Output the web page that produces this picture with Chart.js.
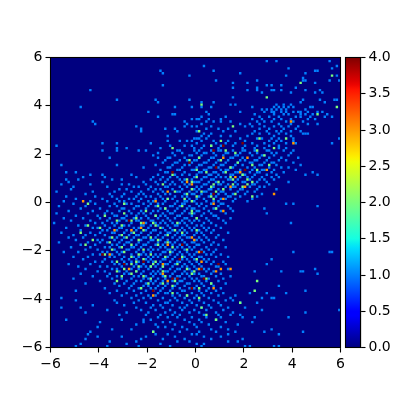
<!DOCTYPE html>
<html>
<head>
<meta charset="utf-8">
<style>
  html, body { margin: 0; padding: 0; background: #fff; }
  #wrap { position: relative; width: 400px; height: 400px; }
  canvas { position: absolute; left: 0; top: 0; }
</style>
<script src="https://cdn.jsdelivr.net/npm/chart.js@4/dist/chart.umd.min.js"></script>
</head>
<body>
<div id="wrap">
  <canvas id="heat" width="400" height="400"></canvas>
  <canvas id="bar" width="400" height="400"></canvas>
</div>
<script>
// histogram bins. row 0 is the top row, col 0 the left column
const binCount = 120;
const axisMin = -6;
const axisMax = 6;
const xTicks = [-6, -4, -2, 0, 2, 4, 6];
const colorbarTicks = [0, 0.5, 1, 1.5, 2, 2.5, 3, 3.5, 4];

// each entry: [row, col, col, ...]
const countOne = [
  [1,89,93,115],[3,63,118],[4,98,116],[5,45,67,109,110],[6,46,78,105],[7,57,97,118],[8,104],
  [9,68,85,104,105,115,119],[10,75,81,109],[11,46,89,91,95],[12,75,85,101],
  [13,16,81,85,91,92,95,105,111],[14,87,99,109,112],[16,75],[17,27,43,57,104,111,117,118],
  [18,44,62,67,103,113],[19,74,76,93,96,99],[20,12,51,58,62,66,83,92,94,96,98,100,107,108],
  [21,87,89,91,93,95,97,105],[22,40,64,78,88,91,92,95,97,100,102,103,106,110,112],
  [23,50,51,65,84,92,96,98,103,105,108,114],[24,44,62,72,86,90,94,101,103,107,113,116],
  [25,58,60,61,65,70,83,87,92,95,99,106,109],[26,17,55,64,67,70,74,85,88,91,97,100,104],
  [27,18,56,62,78,82,86,94,99,106,110],[28,35,55,58,60,66,80,83,88,92,95,98,102],
  [29,37,47,51,64,69,73,86,90,96,101],[30,37,52,60,71,76,84,89,93,95,99,103],
  [31,63,66,83,86,90,94,97,104,105,106],[32,48,62,65,70,74,81,92,99],
  [33,59,60,61,64,78,85,87,91,94,100,119],[34,48,53,56,58,62,67,73,80,90,93,95,100],
  [35,21,27,41,60,68,72,76,83,88,92,97,101,116],[36,2,49,55,58,63,66,70,75,80,85,90,94],
  [37,27,31,45,59,62,69,79,84,88,94,97],
  [38,21,27,36,39,52,53,59,61,66,69,70,75,79,80,84,89,90,96,100],
  [39,44,50,54,60,63,64,67,72,73,78,82,85,91,93,99],
  [40,42,51,57,58,62,68,71,76,77,83,87,88,92,98],
  [41,24,44,48,49,55,61,66,67,74,75,79,86,90,95,102],
  [42,47,53,56,59,60,65,69,73,78,80,84,85,89,94,97],
  [43,46,51,52,58,63,64,68,72,77,82,83,88,91,92,100],
  [44,4,27,43,50,55,57,61,62,67,70,71,76,79,86,87,93,103],
  [45,38,48,49,54,60,65,66,69,74,75,81,84,90,95,98],
  [46,45,52,53,58,59,63,64,70,72,73,78,83,87,88,92,101],
  [47,6,10,47,48,55,61,62,67,68,71,76,77,82,85,86,91,96,108],
  [48,16,21,33,44,51,54,57,60,65,66,69,74,75,79,80,84,89,93,105,110],
  [49,13,22,35,42,46,49,52,59,63,64,68,70,72,78,81,83,87,91,94],
  [50,6,11,25,29,41,45,48,53,55,58,62,66,67,73,74,77,82,86,88,92],
  [51,7,21,38,43,47,50,54,59,60,61,65,68,71,76,79,80,85,89,98],
  [52,4,16,29,32,39,44,49,51,55,57,63,64,69,70,73,77,83,84,90],
  [53,9,23,34,36,41,47,48,53,56,60,62,67,72,75,76,82,86,88],
  [54,8,28,31,40,43,45,50,54,59,61,65,66,69,74,78,79,85,93],
  [55,2,17,26,33,37,42,46,52,53,57,60,63,64,70,71,77,81,84],
  [56,14,24,30,36,38,44,47,49,55,58,59,62,66,69,72,75,80,87],
  [57,6,18,25,29,35,39,41,45,51,54,56,61,65,68,73,74,78,85],
  [58,10,21,27,32,34,37,43,46,48,50,57,60,63,70,72,76,83],
  [59,5,16,23,28,30,36,40,42,47,52,55,56,59,64,67,69,75,81],
  [60,9,18,26,31,33,38,41,44,46,51,54,55,60,62,66,70,71,97,100],
  [61,3,14,24,27,35,36,40,43,49,50,53,57,61,64,69,73,110],
  [62,12,20,29,30,34,39,45,47,52,56,58,59,63,67,68,74,88],
  [63,7,17,23,28,32,37,42,44,48,51,55,60,61,65,70,75],
  [64,2,15,22,25,33,36,38,41,46,49,50,54,57,59,63,66,72,89],
  [65,10,19,26,27,31,35,39,43,45,47,52,53,58,62,67,68],
  [66,5,13,20,24,29,30,34,37,40,44,48,51,55,56,60,64,69,74],
  [67,8,16,23,28,31,35,36,41,42,46,49,54,57,59,61,65,71],
  [68,1,18,21,25,27,33,39,43,45,47,50,53,55,58,63,66,72,99],
  [69,11,14,22,26,30,32,37,38,41,44,48,51,52,56,60,62,68],
  [70,6,17,19,24,28,29,34,36,40,46,49,54,57,59,63,65,70],
  [71,12,21,23,27,31,35,39,42,43,47,50,53,55,58,61,64,67],
  [72,4,16,20,25,26,30,33,37,41,45,48,49,52,56,60,62,66,73],
  [73,9,14,18,22,28,32,35,36,40,44,47,51,54,55,59,63,69],
  [74,7,13,24,27,30,34,38,39,43,46,50,53,56,57,61,64,68],
  [75,10,19,21,26,29,33,37,41,42,45,48,52,54,60,62,65,71],
  [76,3,15,20,23,28,31,32,36,40,44,47,49,51,55,58,59,63,67],
  [77,12,18,25,27,30,35,38,39,43,46,50,53,56,60,61,66,69],
  [78,8,16,22,24,28,33,34,37,41,45,47,52,54,57,59,64,72],
  [79,14,19,26,31,32,36,40,42,44,48,49,51,55,58,62,65,68],
  [80,5,11,21,23,27,29,35,38,41,46,47,50,53,56,60,63,67,100,115,116],
  [81,17,20,25,28,33,37,39,43,45,49,52,54,57,59,64,66,70],
  [82,9,15,24,26,30,34,36,40,42,44,48,51,55,58,61,62,68,73],
  [83,13,22,29,32,35,39,41,46,47,50,54,56,59,63,65,91],
  [84,18,21,25,30,33,36,40,42,45,49,52,53,57,60,64,67,71],
  [85,7,16,26,28,31,35,38,44,47,48,51,55,58,61,66,72,89],
  [86,11,20,23,29,34,37,39,41,43,46,50,54,56,59,62,68,69],
  [87,14,25,27,33,36,40,45,49,52,53,57,60,63,65,73,109],
  [88,19,22,28,31,35,38,42,44,47,48,51,55,58,64,67,84,95,103,104],
  [89,12,24,30,32,37,41,43,45,50,54,56,59,61,66,70,110],
  [90,17,23,27,34,36,39,42,46,49,52,53,57,62,63,68,74],
  [91,9,25,29,33,38,40,44,47,51,55,58,60,65,71],
  [92,20,31,35,37,41,43,46,50,53,54,59,61,64,69],
  [93,14,26,30,34,39,42,45,48,52,56,57,62,66,72],
  [94,28,33,38,40,44,47,51,55,60,63,67,94],
  [95,22,32,36,41,43,46,50,53,57,59,65,70],
  [96,10,27,34,39,42,45,49,54,55,61,64,68,105],
  [97,24,31,37,44,47,48,52,58,62,66,71,82,89,97],
  [98,29,35,40,43,50,53,56,60,63,69,76],
  [99,4,33,38,41,46,51,55,59,65,74,87,91,92],
  [100,10,26,36,44,49,52,57,61,67,72,75],
  [101,27,34,39,47,48,54,58,63,69,78,85],
  [102,17,30,42,45,50,56,60,65,70],
  [103,4,12,35,41,46,53,55,62,66,73,80],
  [104,23,37,43,49,54,59,64,71,87,119],
  [105,14,31,40,47,51,57,61,68,75,105],
  [106,28,39,45,50,53,63,69,74,78],
  [107,44,48,52,58,64,70,79,84,98],
  [108,6,29,38,41,55,61,68],
  [109,20,38,46,49,57,62,72,83],
  [110,35,43,51,59,65,77],
  [111,19,44,47,54,60,70],
  [112,25,33,50,56,66,73,91],
  [113,16,42,53,61,68,76,88,104],
  [114,15,43,48,58,60,73,94],
  [115,19,29,39,51,63,70],
  [116,14,37,46,55,66,79],
  [117,24,35,52,57,73,77],
  [118,12,31,45,60,63],
  [119,10,23,36,49,62,80,82,92,94]
];

// each entry: [row, col]
const countTwo = [
  [7,116],[10,103],[16,89],[19,62],[20,118],[23,110],[28,75],[30,61],[33,86],[33,97],[34,70],[36,66],[37,50],[37,92],
  [38,85],[38,72],[39,76],[40,88],[41,61],[42,70],[42,57],[43,77],[44,83],[44,90],[45,74],[46,60],[46,85],
  [47,72],[48,50],[48,79],[49,60],[50,56],[50,75],[50,81],[51,58],[51,69],[51,83],[52,46],[52,75],[52,81],
  [53,66],[53,79],[54,58],[54,71],[55,51],[55,68],[56,56],[56,76],[57,60],[57,66],[57,83],[58,48],[58,67],
  [59,58],[60,15],[60,30],[61,54],[62,47],[62,68],[63,39],[64,30],[64,58],[65,22],[65,43],[66,60],[67,27],[67,33],
  [68,37],[68,52],[69,15],[69,29],[70,20],[70,45],[71,38],[71,60],[72,12],[72,34],[73,29],[73,48],[74,25],
  [74,41],[75,17],[75,36],[76,24],[76,48],[77,14],[77,33],[78,29],[78,50],[79,38],[79,56],[80,30],[80,49],
  [81,22],[81,36],[82,33],[82,47],[83,38],[83,60],[84,27],[84,43],[85,33],[85,52],[86,36],[86,46],[87,30],
  [87,56],[88,27],[88,46],[89,33],[89,58],[90,38],[90,47],[91,41],[91,64],[92,27],[92,85],[93,46],[93,66],
  [94,50],[95,37],[95,61],[96,84],[97,50],[98,56],[99,61],[101,78],[103,62],[106,64],[108,68],[113,42],
  [47,64],[49,74],[52,67],[55,62],[58,55],[61,44],[63,58],[66,35],[69,43],[72,54],[74,31],[77,44],[79,25],
  [82,54],[84,35],[86,41],[88,59],[90,29],[92,51],[68,42],[71,51],[75,44],[81,41],[85,42],[88,35],[93,40]
];

const countThree = [
  [26,99],[35,100],[41,71],[41,81],[46,89],[47,78],[49,76],[51,56],[52,58],[53,74],[53,80],[55,48],[56,92],
  [58,71],[59,13],[59,43],[60,67],[63,71],[68,38],[70,37],[71,26],[71,33],[74,58],[75,59],[77,48],[80,61],
  [81,24],[84,62],[85,46],[87,32],[87,61],[87,70],[87,74],[88,68],[89,46],[92,48],[95,67],[98,42]
];

const countFour = [
  [35,79],[36,71],[38,67],[43,57],[45,68],[46,80],[47,50],[56,67],[67,32],[77,54],[80,62],[81,21],[83,53],
  [84,38],[85,30],[85,69],[87,62],[91,50],[91,52],[91,63],[95,58],[96,42]
];

const colorMax = 4;

// matplotlib jet segments
function jet(t) {
  const seg = (pts) => {
    for (let i = 1; i < pts.length; i++) {
      if (t <= pts[i][0]) {
        const f = (t - pts[i - 1][0]) / (pts[i][0] - pts[i - 1][0]);
        return pts[i - 1][1] + f * (pts[i][1] - pts[i - 1][1]);
      }
    }
    return pts[pts.length - 1][1];
  };
  const r = seg([[0, 0], [0.35, 0], [0.66, 1], [0.89, 1], [1, 0.5]]);
  const g = seg([[0, 0], [0.125, 0], [0.375, 1], [0.64, 1], [0.91, 0], [1, 0]]);
  const b = seg([[0, 0.5], [0.11, 1], [0.34, 1], [0.65, 0], [1, 0]]);
  return `rgb(${Math.round(r * 255)},${Math.round(g * 255)},${Math.round(b * 255)})`;
}

function binCenter(i) {
  return axisMin + (i + 0.5) * (axisMax - axisMin) / binCount;
}

const cells = [];
countOne.forEach(entry => {
  entry.slice(1).forEach(col => cells.push({ x: binCenter(col), y: -binCenter(entry[0]), v: 1 }));
});
[[countTwo, 2], [countThree, 3], [countFour, 4]].forEach(([list, value]) => {
  list.forEach(([row, col]) => cells.push({ x: binCenter(col), y: -binCenter(row), v: value }));
});

const fontSpec = { family: "'DejaVu Sans'", size: 14 };
const minus = v => String(v).replace('-', '\u2212');

const axisBase = {
  min: axisMin,
  max: axisMax,
  grid: { drawOnChartArea: false, tickLength: 5, tickColor: '#000', tickWidth: 1.1 },
  border: { color: '#000', width: 1.1 }
};

const plotFrame = {
  id: 'plotFrame',
  beforeDatasetsDraw(chart) {
    const a = chart.chartArea;
    chart.ctx.fillStyle = jet(0);
    chart.ctx.fillRect(a.left, a.top, a.width, a.height);
  },
  afterDraw(chart) {
    const a = chart.chartArea;
    chart.ctx.strokeStyle = '#000';
    chart.ctx.lineWidth = 1.1;
    chart.ctx.strokeRect(a.left, a.top, a.width, a.height);
  }
};

new Chart(document.getElementById('heat'), {
  type: 'scatter',
  data: {
    datasets: [{
      data: cells,
      pointStyle: 'rect',
      borderWidth: 0,
      pointBorderWidth: 0,
      pointBackgroundColor: ctx => jet((ctx.raw ? ctx.raw.v : 0) / colorMax),
      pointRadius: ctx => {
        const s = ctx.chart.scales.x;
        return (s ? s.width : 290) / binCount / 2 * Math.SQRT2;
      }
    }]
  },
  options: {
    responsive: false,
    animation: false,
    events: [],
    layout: { padding: { left: 0, top: 57.5, right: 59.5, bottom: 0 } },
    plugins: { legend: { display: false }, tooltip: { enabled: false } },
    scales: {
      x: {
        ...axisBase,
        afterBuildTicks: s => { s.ticks = xTicks.map(value => ({ value })); },
        afterFit: s => { s.height = 52.5; },
        ticks: { color: '#000', font: fontSpec, padding: 3, maxRotation: 0, callback: minus }
      },
      y: {
        ...axisBase,
        afterBuildTicks: s => { s.ticks = xTicks.map(value => ({ value })); },
        afterFit: s => { s.width = 50.5; },
        ticks: { color: '#000', font: fontSpec, padding: 3, callback: minus }
      }
    }
  },
  plugins: [plotFrame]
});

// colorbar, one bar from 0 to the top of the range with a jet gradient
new Chart(document.getElementById('bar'), {
  type: 'bar',
  data: {
    labels: [''],
    datasets: [{
      data: [[0, colorMax]],
      categoryPercentage: 1,
      barPercentage: 1,
      backgroundColor: ctx => {
        const a = ctx.chart.chartArea;
        if (!a) return jet(0);
        const g = ctx.chart.ctx.createLinearGradient(0, a.bottom, 0, a.top);
        for (let i = 0; i <= 64; i++) g.addColorStop(i / 64, jet(i / 64));
        return g;
      }
    }]
  },
  options: {
    responsive: false,
    animation: false,
    events: [],
    layout: { padding: { left: 345.5, top: 57.5, right: 0, bottom: 52.5 } },
    plugins: { legend: { display: false }, tooltip: { enabled: false } },
    scales: {
      x: { display: false },
      y: {
        position: 'right',
        min: 0,
        max: colorMax,
        afterBuildTicks: s => { s.ticks = colorbarTicks.map(value => ({ value })); },
        afterFit: s => { s.width = 39.5; },
        grid: { drawOnChartArea: false, tickLength: 5, tickColor: '#000', tickWidth: 1.1 },
        border: { color: '#000', width: 1.1 },
        ticks: { color: '#000', font: fontSpec, padding: 3, callback: v => v.toFixed(1) }
      }
    }
  },
  plugins: [{
    id: 'barFrame',
    afterDraw(chart) {
      const a = chart.chartArea;
      chart.ctx.strokeStyle = '#000';
      chart.ctx.lineWidth = 1.1;
      chart.ctx.strokeRect(a.left, a.top, a.width, a.height);
    }
  }]
});
</script>
</body>
</html>
